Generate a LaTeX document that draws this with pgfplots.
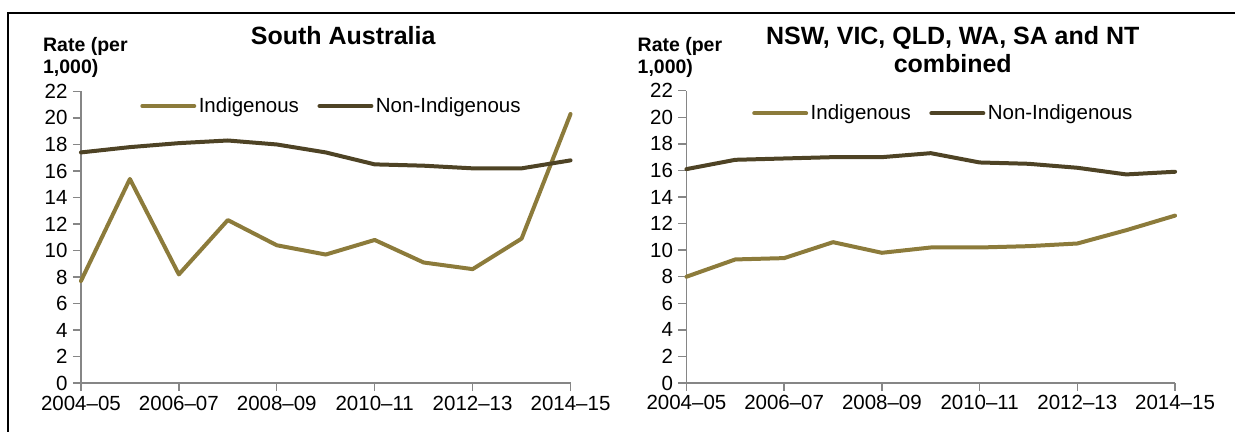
\documentclass[border=0pt]{standalone}
\usepackage{fontspec}
\setmainfont{Liberation Sans}
\usepackage{pgfplots}
\pgfplotsset{compat=1.18}
\definecolor{indig}{RGB}{140,123,59}
\definecolor{nonind}{RGB}{78,67,37}
\definecolor{axgray}{RGB}{134,134,134}
\newcommand{\tickfont}{\fontsize{20.5bp}{24bp}\selectfont}
\pgfplotsset{
  myaxis/.style={
    scale only axis,
    width=490bp, height=292bp,
    xmin=0, xmax=10, ymin=0, ymax=22,
    axis lines=left,
    axis line style={-, draw=axgray, line width=1.4bp},
    tick style={draw=axgray, line width=1.4bp},
    tick align=outside,
    major tick length=8bp,
    xtick={0,2,4,6,8,10},
    xticklabels={2004–05,2006–07,2008–09,2010–11,2012–13,2014–15},
    ytick={0,2,...,22},
    /pgf/number format/assume math mode=true,
    ticklabel style={font=\tickfont},
    yticklabel style={xshift=-2bp},
    xticklabel style={yshift=-1bp},
    clip=false,
    legend columns=2,
    legend style={draw=none, fill=none, inner sep=0pt, outer sep=0pt,
      anchor=west, font=\tickfont,
      nodes={inner xsep=2.5bp, inner ysep=0bp},
      /tikz/every even column/.append style={column sep=16bp}},
    legend image code/.code={\draw[##1] (0bp,0bp) -- (52bp,0bp);},
    every axis plot/.append style={line width=4bp, line join=round, line cap=round},
  }
}
\begin{document}
\begin{tikzpicture}
\path (0bp,0bp) rectangle (1236bp,432bp);
\draw[line width=2bp] (8.5bp,0bp) -- (8.5bp,419.3bp) -- (1236bp,419.3bp);

\begin{axis}[myaxis, at={(81bp,48.5bp)}, anchor=south west,
  legend style={at={(rel axis cs:0.1213,0.950)}}]
\addplot[color=indig] coordinates {(0,7.7) (1,15.4) (2,8.2) (3,12.3) (4,10.4) (5,9.7) (6,10.8) (7,9.1) (8,8.6) (9,10.9) (10,20.3)};
\addlegendentry{Indigenous}
\addplot[color=nonind] coordinates {(0,17.4) (1,17.8) (2,18.1) (3,18.3) (4,18.0) (5,17.4) (6,16.5) (7,16.4) (8,16.2) (9,16.2) (10,16.8)};
\addlegendentry{Non-Indigenous}
\end{axis}

\begin{axis}[myaxis, at={(687bp,48.7bp)}, anchor=south west, width=489bp, height=292.5bp,
  legend style={at={(rel axis cs:0.1346,0.923)}}]
\addplot[color=indig] coordinates {(0,8.0) (1,9.3) (2,9.4) (3,10.6) (4,9.8) (5,10.2) (6,10.2) (7,10.3) (8,10.5) (9,11.5) (10,12.6)};
\addlegendentry{Indigenous}
\addplot[color=nonind] coordinates {(0,16.1) (1,16.8) (2,16.9) (3,17.0) (4,17.0) (5,17.3) (6,16.6) (7,16.5) (8,16.2) (9,15.7) (10,15.9)};
\addlegendentry{Non-Indigenous}
\end{axis}

\node[anchor=base, font=\fontsize{25bp}{29bp}\selectfont\bfseries] at (343.5bp,387.7bp) {South Australia};
\node[anchor=base, font=\fontsize{25bp}{29bp}\selectfont\bfseries] at (953.5bp,387.7bp) {NSW, VIC, QLD, WA, SA and NT};
\node[anchor=base, font=\fontsize{25bp}{29bp}\selectfont\bfseries] at (953.5bp,359.3bp) {combined};

\node[anchor=base west, inner sep=0pt, font=\fontsize{19.5bp}{22bp}\selectfont\bfseries] at (43bp,380.3bp) {Rate (per};
\node[anchor=base west, inner sep=0pt, font=\fontsize{19.5bp}{22bp}\selectfont\bfseries] at (43bp,358.5bp) {1,000)};
\node[anchor=base west, inner sep=0pt, font=\fontsize{19.5bp}{22bp}\selectfont\bfseries] at (638bp,380.3bp) {Rate (per};
\node[anchor=base west, inner sep=0pt, font=\fontsize{19.5bp}{22bp}\selectfont\bfseries] at (638bp,358.5bp) {1,000)};
\end{tikzpicture}
\end{document}
